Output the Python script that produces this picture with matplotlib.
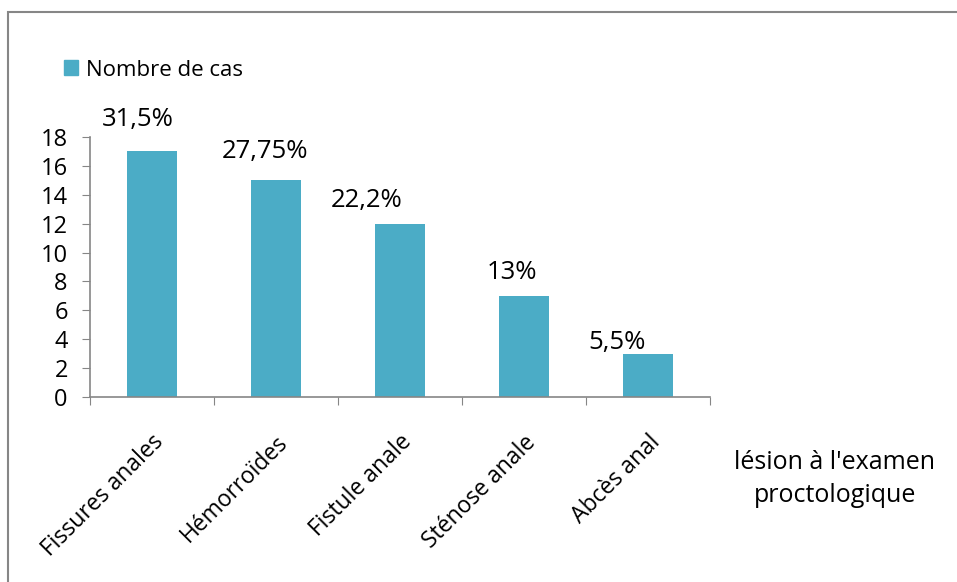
import matplotlib
matplotlib.use("Agg")
import matplotlib.pyplot as plt
from matplotlib.patches import Rectangle, Patch

categories = ["Fissures anales", "Hémorroïdes", "Fistule anale", "Sténose anale", "Abcès anal"]
counts = [17, 15, 12, 7, 3]
pct_labels = ["31,5%", "27,75%", "22,2%", "13%", "5,5%"]
yticks = [0, 2, 4, 6, 8, 10, 12, 14, 16, 18]
series_name = "Nombre de cas"
axis_title = "lésion à l'examen\nproctologique"

# label offsets (points) relative to bar top-centre
label_dx = [-10, -8, -24, -9, -22]
label_dy = [23, 21, 17, 17, 8]

plt.rcParams['font.family'] = ['Open Sans', 'DejaVu Sans']
W, H = 957, 582
fig = plt.figure(figsize=(W/100, H/100), dpi=100)
fig.patches.append(Rectangle((8/W, -0.1), 1.1, 1 - 12/H + 0.1, transform=fig.transFigure,
                             fill=False, edgecolor='#868686', linewidth=1.5))
ax = fig.add_axes([90/W, 1-397/H, 620/W, 260/H])
color = '#4BACC6'
x = list(range(len(categories)))
ax.bar(x, counts, width=0.4, color=color)
ax.set_xlim(-0.5, len(categories)-0.5)
ax.set_ylim(0, 18)
ax.set_yticks(yticks)
ax.tick_params(axis='y', labelsize=17, length=6, color='#868686', pad=10)
for s in ['top', 'right']:
    ax.spines[s].set_visible(False)
for s in ['left', 'bottom']:
    ax.spines[s].set_color('#868686')
    ax.spines[s].set_linewidth(1.2)
ax.set_xticks([i - 0.5 for i in range(len(categories)+1)], minor=False)
ax.set_xticklabels([])
ax.tick_params(axis='x', length=6, color='#868686', direction='out')
ax.set_xticks(x, minor=True)
ax.set_xticklabels(categories, minor=True, rotation=45, ha='right', va='top',
                   rotation_mode='anchor', fontsize=16.5)
ax.tick_params(axis='x', which='minor', length=0, pad=24)

for i, (v, lab) in enumerate(zip(counts, pct_labels)):
    ax.annotate(lab, (i, v), xytext=(label_dx[i], label_dy[i]), textcoords='offset points',
                ha='center', va='center', fontsize=18.5)

fig.legend(handles=[Patch(color=color, label=series_name)], loc='center left',
           bbox_to_anchor=(48/W, 1-70/H), frameon=False, fontsize=16,
           handlelength=0.65, handleheight=0.65, handletextpad=0.35, borderpad=0.2)
fig.text(835/W, 1-479/H, axis_title, ha='center', va='center', fontsize=18, linespacing=1.4)

fig.savefig("out.png", dpi=100)
